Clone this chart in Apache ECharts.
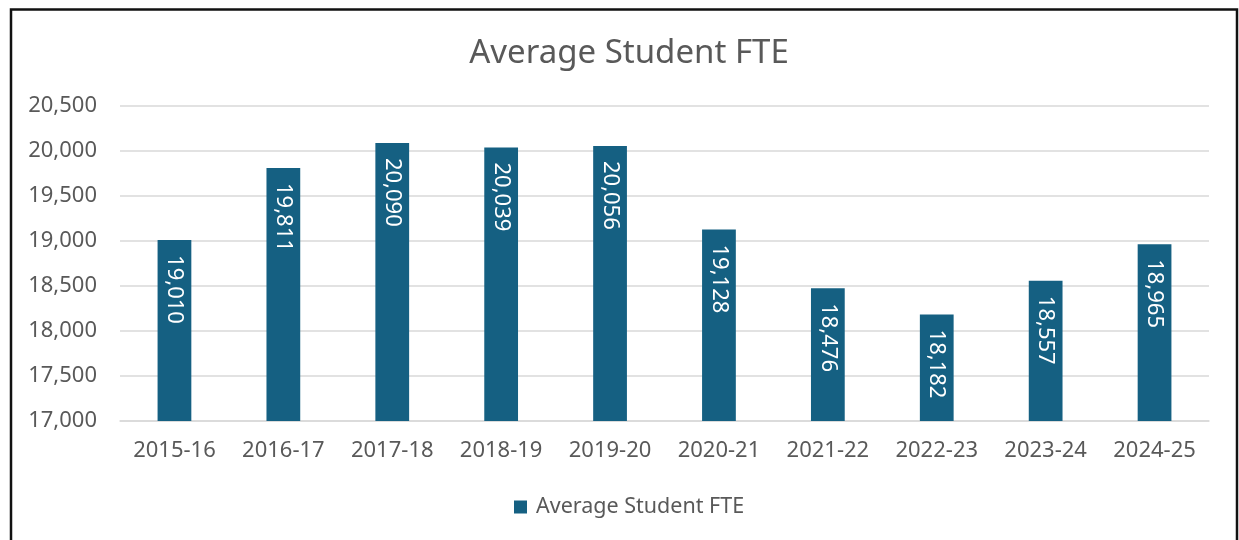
<!DOCTYPE html>
<html>
<head>
<meta charset="utf-8">
<script src="https://cdn.jsdelivr.net/npm/echarts@6/dist/echarts.min.js"></script>
<style>
  html, body { margin: 0; padding: 0; background: #fff; }
  #chart { width: 1239px; height: 540px; }
</style>
</head>
<body>
<div id="chart"></div>
<script>
  // chart data
  const years = ['2015-16', '2016-17', '2017-18', '2018-19', '2019-20', '2020-21', '2021-22', '2022-23', '2023-24', '2024-25'];
  const fte = [19010, 19811, 20090, 20039, 20056, 19128, 18476, 18182, 18557, 18965];
  const seriesName = 'Average Student FTE';

  const textColor = '#595959';
  const font = "'Noto Sans', 'Open Sans', sans-serif";

  let myChart = echarts.init(document.getElementById('chart'));

  let option = {
    animation: false,
    textStyle: { fontFamily: font },
    graphic: [{
      type: 'rect',
      shape: { x: 11, y: 9.5, width: 1226, height: 600 },
      style: { fill: 'none', stroke: '#111', lineWidth: 2.5 },
      silent: true
    }],
    title: {
      text: 'Average Student FTE',
      left: 624,
      textAlign: 'center',
      top: 32,
      textStyle: { fontFamily: font, fontSize: 33, fontWeight: 'normal', color: textColor }
    },
    legend: {
      data: [seriesName],
      bottom: 17,
      left: 509,
      itemWidth: 13,
      itemHeight: 13,
      icon: 'rect',
      textStyle: { fontFamily: font, fontSize: 21.5, color: textColor, padding: [0, 0, 0, 4] }
    },
    grid: {
      left: 120,
      right: 30,
      top: 106,
      bottom: 119,
      containLabel: false
    },
    xAxis: {
      type: 'category',
      data: years,
      axisTick: { show: false },
      axisLine: { lineStyle: { color: '#d9d9d9', width: 1.5 } },
      axisLabel: { fontSize: 22, color: textColor, margin: 19, fontFamily: font }
    },
    yAxis: {
      type: 'value',
      min: 17000,
      max: 20500,
      interval: 500,
      axisLine: { show: false },
      axisTick: { show: false },
      splitLine: { lineStyle: { color: '#d9d9d9', width: 1.5 } },
      axisLabel: {
        fontSize: 22,
        color: textColor,
        margin: 23,
        fontFamily: font,
        formatter: v => v.toLocaleString('en-US')
      }
    },
    series: [{
      name: seriesName,
      type: 'bar',
      data: fte,
      barWidth: '31%',
      itemStyle: { color: '#156082' },
      label: {
        show: true,
        position: 'insideTop',
        rotate: -90,
        align: 'left',
        verticalAlign: 'middle',
        distance: 15,
        color: '#fff',
        fontSize: 22,
        fontFamily: font,
        formatter: p => p.value.toLocaleString('en-US')
      }
    }]
  };

  myChart.setOption(option);
  window.addEventListener('resize', () => { myChart.resize(); });
</script>
</body>
</html>
